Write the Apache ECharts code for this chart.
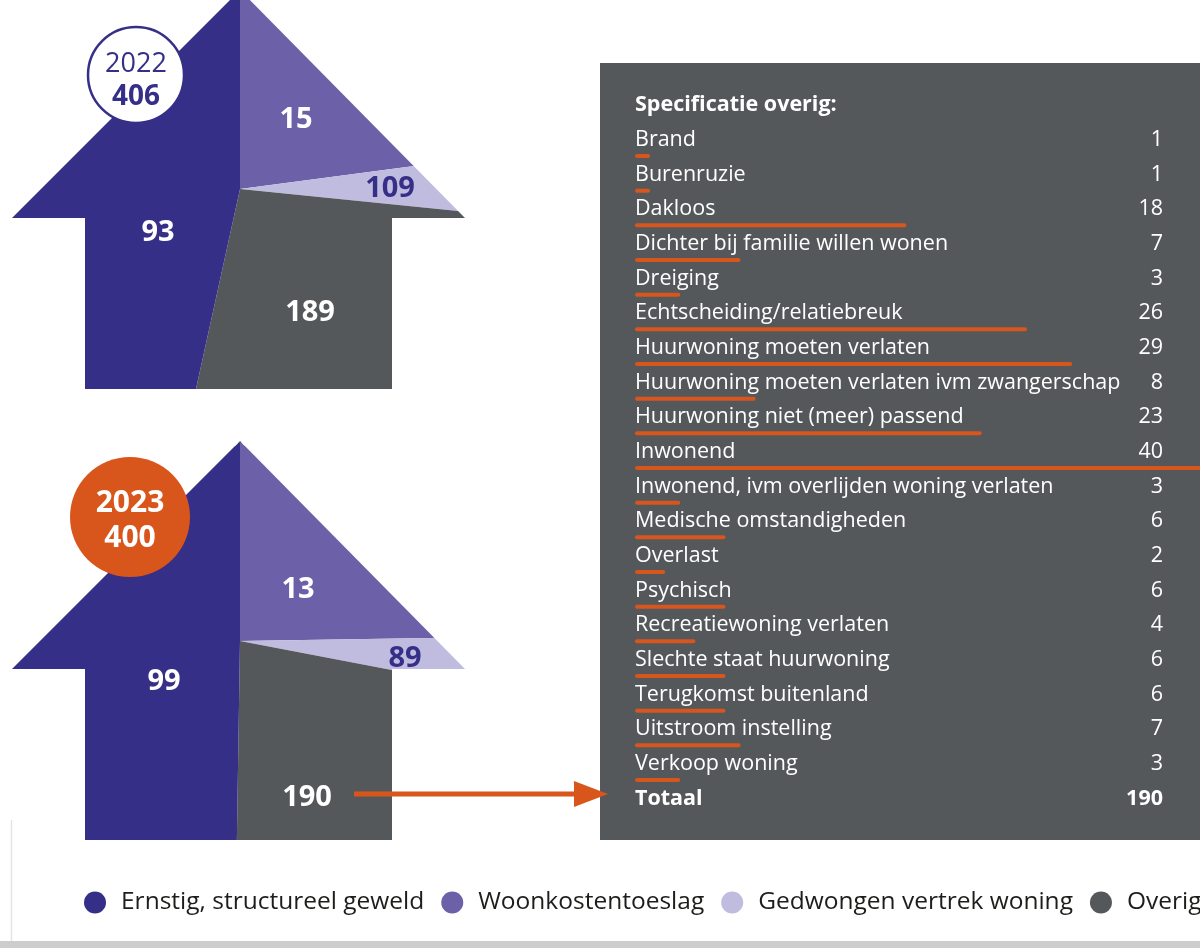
<!DOCTYPE html>
<html>
<head>
<meta charset="utf-8">
<script src="https://cdn.jsdelivr.net/npm/echarts@6.0.0/dist/echarts.min.js"></script>
</head>
<body style="margin:0">
<div id="container" style="width:1200px;height:948px"></div>
<script>
var categories = ['Ernstig, structureel geweld', 'Woonkostentoeslag', 'Gedwongen vertrek woning', 'Overig'];
var colors = ['#362f87', '#6c60a8', '#c0bce0', '#55585b'];

// numbers printed in the houses, per category
var printed2022 = [93, 15, 109, 189];
var printed2023 = [99, 13, 89, 190];
// slice sizes as drawn, clockwise from 12 o'clock
// (2023 Overig is drawn as 199 - the table rows add up to that too)
var slices2022 = [93, 15, 109, 189];
var slices2023 = [99, 13, 89, 199];

var overigNames = ['Brand', 'Burenruzie', 'Dakloos', 'Dichter bij familie willen wonen', 'Dreiging',
  'Echtscheiding/relatiebreuk', 'Huurwoning moeten verlaten', 'Huurwoning moeten verlaten ivm zwangerschap',
  'Huurwoning niet (meer) passend', 'Inwonend', 'Inwonend, ivm overlijden woning verlaten',
  'Medische omstandigheden', 'Overlast', 'Psychisch', 'Recreatiewoning verlaten',
  'Slechte staat huurwoning', 'Terugkomst buitenland', 'Uitstroom instelling', 'Verkoop woning'];
var overigValues = [1, 1, 18, 7, 3, 26, 29, 8, 23, 40, 3, 6, 2, 6, 4, 6, 6, 7, 3];
var overigTotal = 190;

var FONT = "'Open Sans', 'Noto Sans', sans-serif";
var ORANGE = '#d8561c';
var NAVY = colors[0];

// where the numbers sit inside the houses (slice order)
var labelPos2022 = [[296, 120], [390, 189], [310, 313], [158, 233]];
var labelPos2023 = [[298, 590], [405, 659], [307, 798], [164, 682]];

var rows = ['Specificatie overig:'].concat(overigNames, ['Totaal']);

function sum(a) { return a.reduce(function (s, v) { return s + v; }, 0); }

// in the original graphic each slice carries the colour and number of the next category
function houseData(slices, printed) {
  return slices.map(function (v, k) {
    var c = (k + 1) % 4;
    return {
      name: categories[c],
      value: v,
      itemStyle: { color: colors[c] },
      label: { formatter: String(printed[c]), color: c === 2 ? NAVY : '#fff' }
    };
  });
}

function house(cy, r, slices, printed, pos, z) {
  return {
    type: 'pie',
    center: [240, cy],
    radius: r,
    startAngle: 90,
    clockwise: true,
    z: z,
    silent: true,
    animation: false,
    avoidLabelOverlap: false,
    itemStyle: { borderWidth: 0 },
    label: {
      show: true, position: 'inside', fontFamily: FONT, fontWeight: 'bold', fontSize: 29,
      textBorderWidth: 0
    },
    labelLine: { show: false },
    labelLayout: function (p) {
      return { x: pos[p.dataIndex][0], y: pos[p.dataIndex][1], align: 'center', verticalAlign: 'middle' };
    },
    emphasis: { disabled: true },
    data: houseData(slices, printed)
  };
}

function rect(x, y, w, h, fill, z) {
  return { type: 'rect', shape: { x: x, y: y, width: w, height: h }, style: { fill: fill }, z: z, silent: true };
}
function mask(pts, z) {
  return { type: 'polygon', shape: { points: pts }, style: { fill: '#fff' }, z: z, silent: true };
}
function txt(text, x, y, size, weight, color) {
  return {
    type: 'text', z: 11, silent: true,
    style: {
      text: text, x: x, y: y, font: weight + ' ' + size + 'px ' + FONT, fill: color,
      align: 'center', verticalAlign: 'middle', textAlign: 'center', textVerticalAlign: 'middle'
    }
  };
}

var graphics = [
  // frame at the bottom
  { type: 'line', shape: { x1: 11.5, y1: 820, x2: 11.5, y2: 941 }, style: { stroke: '#e4e4e4', lineWidth: 1.5 }, z: -20, silent: true },
  rect(0, 941, 1200, 7, '#cdcdcd', -20),
  // table panel
  rect(600, 63, 600, 777, '#55585b', -10),

  // house 2023 cut-outs
  mask([[-30, 669], [12, 669], [240, 441], [240, 380], [-30, 380]], 2),
  mask([[240, 441], [465, 669], [510, 669], [510, 380], [240, 380]], 2),
  rect(-30, 669, 115, 150, '#fff', 2),
  rect(14, 819, 71, 81, '#fff', 2),
  rect(392, 669, 118, 231, '#fff', 2),
  rect(85, 840, 307, 60, '#fff', 2),

  // house 2022 cut-outs
  mask([[-30, 218], [12, 218], [240, -10], [240, -80], [-30, -80]], 4),
  mask([[240, -10], [465, 218], [510, 218], [510, -80], [240, -80]], 4),
  rect(-30, 218, 115, 171, '#fff', 4),
  rect(392, 218, 118, 171, '#fff', 4),
  mask([[-30, 389], [510, 389], [510, 446], [245, 446], [240, 441], [235, 446], [-30, 446]], 4),

  // arrow to the table
  { type: 'line', shape: { x1: 354, y1: 794, x2: 578, y2: 794 }, style: { stroke: ORANGE, lineWidth: 5 }, z: 10, silent: true },
  { type: 'polygon', shape: { points: [[574, 781], [608, 794], [574, 807]] }, style: { fill: ORANGE }, z: 10, silent: true },

  // year badges
  { type: 'circle', shape: { cx: 136, cy: 75, r: 48 }, style: { fill: '#fff', stroke: NAVY, lineWidth: 2.5 }, z: 10, silent: true },
  txt('2022', 136, 64, 27, 'normal', NAVY),
  txt(String(sum(slices2022)), 136, 97, 28, 'bold', NAVY),
  { type: 'circle', shape: { cx: 130, cy: 517, r: 60 }, style: { fill: ORANGE }, z: 10, silent: true },
  txt('2023', 130, 503, 30, 'bold', '#fff'),
  txt(String(sum(slices2023)), 130, 538, 30, 'bold', '#fff')
];

var chart = echarts.init(document.getElementById('container'));
var option = {
  animation: false,
  graphic: graphics,
  legend: {
    data: categories,
    left: 84,
    top: 890,
    width: 1500,
    padding: 0,
    icon: 'circle',
    itemWidth: 22,
    itemHeight: 22,
    itemGap: 17,
    selectedMode: false,
    z: 20,
    textStyle: { fontFamily: FONT, fontSize: 24.5, color: '#1d1d1b', padding: [0, 0, 0, 10] }
  },
  grid: { left: 635, right: -38, top: 104, height: 728, outerBoundsMode: 'none', containLabel: false },
  xAxis: { type: 'value', min: 0, max: 40, show: false },
  yAxis: [
    {
      type: 'category', data: rows, inverse: true, position: 'left', z: 5,
      axisLine: { show: false }, axisTick: { show: false }, splitLine: { show: false },
      axisLabel: {
        inside: true, margin: 0, interval: 0, color: '#fff', fontFamily: FONT, fontSize: 21.5,
        padding: [0, 0, 32, 0],
        formatter: function (v, i) {
          return (i === 0 || i === rows.length - 1) ? '{b|' + v + '}' : v;
        },
        rich: { b: { fontWeight: 'bold', color: '#fff', fontFamily: FONT, fontSize: 21.5 } }
      }
    },
    {
      type: 'category', data: rows, inverse: true, position: 'right', z: 5,
      axisLine: { show: false }, axisTick: { show: false }, splitLine: { show: false },
      axisLabel: {
        inside: true, margin: 75, interval: 0, color: '#fff', fontFamily: FONT, fontSize: 21.5,
        padding: [0, 0, 32, 0],
        formatter: function (v, i) {
          if (i === 0) return '';
          if (i === rows.length - 1) return '{b|' + overigTotal + '}';
          return String(overigValues[i - 1]);
        },
        rich: { b: { fontWeight: 'bold', color: '#fff', fontFamily: FONT, fontSize: 21.5 } }
      }
    }
  ],
  series: [
    house(641, 253, slices2023, printed2023, labelPos2023, 1),
    house(189, 254, slices2022, printed2022, labelPos2022, 3),
    {
      type: 'bar', xAxisIndex: 0, yAxisIndex: 0, z: 5, silent: true,
      data: ['-'].concat(overigValues, ['-']),
      barWidth: 4,
      itemStyle: { color: ORANGE, borderRadius: 2 }
    }
  ]
};
chart.setOption(option);
</script>
</body>
</html>
